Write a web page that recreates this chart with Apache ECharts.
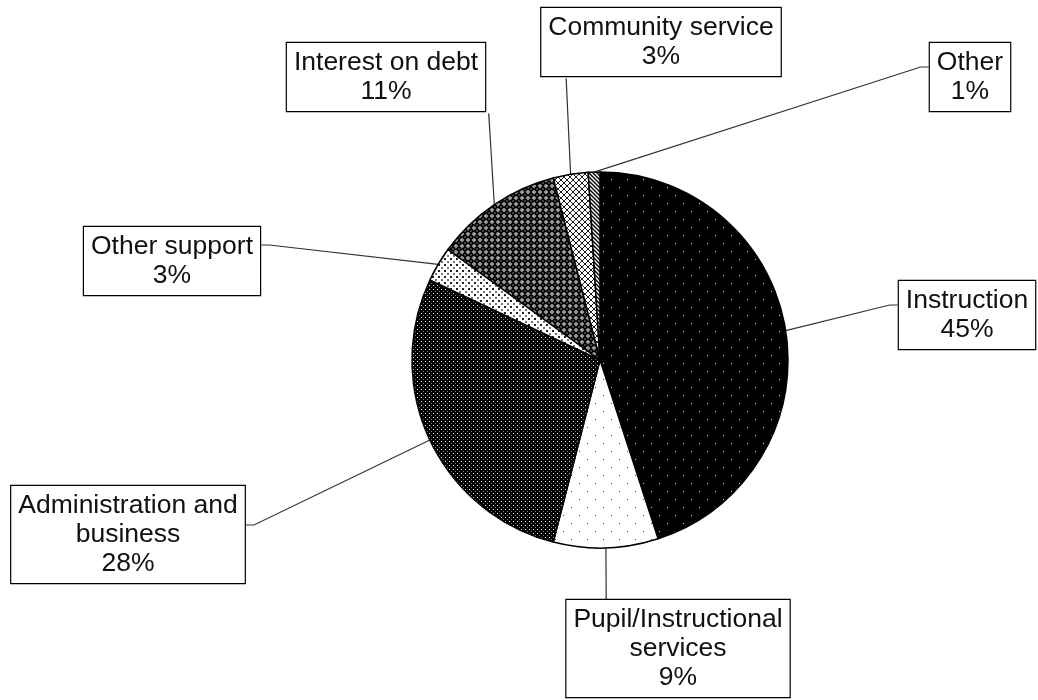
<!DOCTYPE html>
<html>
<head>
<meta charset="utf-8">
<script src="https://cdn.jsdelivr.net/npm/echarts@6/dist/echarts.min.js"></script>
<style>
  html, body { margin: 0; padding: 0; background: #fff; }
  #chart { width: 1038px; height: 700px; }
</style>
</head>
<body>
<div id="chart"></div>
<script>
// spending categories and their shares (%)
var categories = ['Instruction', 'Pupil/Instructional services', 'Administration and business',
  'Other support', 'Interest on debt', 'Community service', 'Other'];
var shares = [45, 9, 28, 3, 11, 3, 1];

// where each callout box sits: [centre x, top y, side the line joins, offset along that side]
var labelSpots = [
  [967, 281, 'left', 24],
  [678, 600, 'top', 41],
  [128, 486, 'right', 39],
  [172, 227, 'right', 18],
  [386, 43, 'bottom', 203],
  [661, 8, 'bottom', 26],
  [970, 43, 'left', 24]
];

// small canvas tiles used as fill patterns
function tile(size, bg, draw) {
  var c = document.createElement('canvas');
  c.width = size; c.height = size;
  var g = c.getContext('2d');
  g.fillStyle = bg;
  g.fillRect(0, 0, size, size);
  draw(g);
  return { image: c, repeat: 'repeat' };
}

var fills = [
  tile(16, '#000', function (g) { g.fillStyle = '#ddd'; g.fillRect(3, 3, 1, 1); g.fillRect(11, 11, 1, 1); }),
  tile(16, '#fff', function (g) { g.fillStyle = '#444'; g.fillRect(3, 3, 1, 1); g.fillRect(11, 11, 1, 1); }),
  tile(4, '#000', function (g) { g.fillStyle = '#eee'; g.fillRect(1, 1, 1, 1); g.fillStyle = '#777'; g.fillRect(3, 3, 1, 1); }),
  tile(6, '#fff', function (g) { g.fillStyle = '#222'; g.fillRect(0, 0, 2, 2); g.fillStyle = '#777'; g.fillRect(3, 3, 2, 2); }),
  tile(6, '#999', function (g) {
    g.fillStyle = '#000';
    g.beginPath(); g.moveTo(3, -0.5); g.lineTo(6.5, 3); g.lineTo(3, 6.5); g.lineTo(-0.5, 3); g.closePath(); g.fill();
    g.fillStyle = '#fff'; g.fillRect(2.5, 2.5, 1, 1);
  }),
  tile(6, '#fff', function (g) {
    g.strokeStyle = '#000'; g.lineWidth = 0.9;
    g.beginPath(); g.moveTo(0, 3); g.lineTo(3, 0); g.lineTo(6, 3); g.lineTo(3, 6); g.closePath(); g.stroke();
  }),
  tile(4, '#fff', function (g) {
    g.strokeStyle = '#000'; g.lineWidth = 1.4;
    g.beginPath(); g.moveTo(-1, -1); g.lineTo(5, 5); g.moveTo(-1, 3); g.lineTo(1, 5); g.moveTo(3, -1); g.lineTo(5, 1); g.stroke();
  })
];

function wrapName(name) {
  if (name.length <= 20) return name;
  var i = name.lastIndexOf(' ');
  return name.slice(0, i) + '\n' + name.slice(i + 1);
}

var pieData = categories.map(function (name, i) {
  return { name: name, value: shares[i], itemStyle: { color: fills[i] } };
});

var myChart = echarts.init(document.getElementById('chart'));
var option = {
  backgroundColor: '#fff',
  animation: false,
  series: [{
    type: 'pie',
    center: [600, 360],
    radius: 188,
    startAngle: 90,
    clockwise: true,
    avoidLabelOverlap: false,
    data: pieData,
    itemStyle: { borderColor: '#000', borderWidth: 1.5 },
    label: {
      show: true,
      position: 'outside',
      formatter: function (p) { return wrapName(p.name) + '\n' + Math.round(p.percent) + '%'; },
      fontFamily: 'Liberation Sans, Arial, sans-serif',
      fontSize: 26.5,
      lineHeight: 29,
      color: '#111',
      align: 'center',
      backgroundColor: '#fff',
      borderColor: '#000',
      borderWidth: 1.2,
      padding: [5, 7]
    },
    labelLine: {
      show: true,
      length: 10,
      length2: 10,
      lineStyle: { color: '#333', width: 1.2 }
    },
    labelLayout: function (params) {
      var s = labelSpots[params.dataIndex];
      var w = params.labelRect.width, h = params.labelRect.height;
      var left = s[0] - w / 2, top = s[1];
      var end, mid;
      if (s[2] === 'left') { end = [left, top + s[3]]; mid = [left - 8, end[1]]; }
      else if (s[2] === 'right') { end = [left + w, top + s[3]]; mid = [end[0] + 8, end[1]]; }
      else if (s[2] === 'top') { end = [left + s[3], top]; mid = end.slice(); }
      else { end = [left + s[3], top + h]; mid = end.slice(); }
      var start = params.labelLinePoints ? params.labelLinePoints[0] : mid;
      return {
        x: s[0],
        y: top,
        align: 'center',
        verticalAlign: 'top',
        labelLinePoints: [start, mid, end]
      };
    }
  }]
};
myChart.setOption(option);
</script>
</body>
</html>
